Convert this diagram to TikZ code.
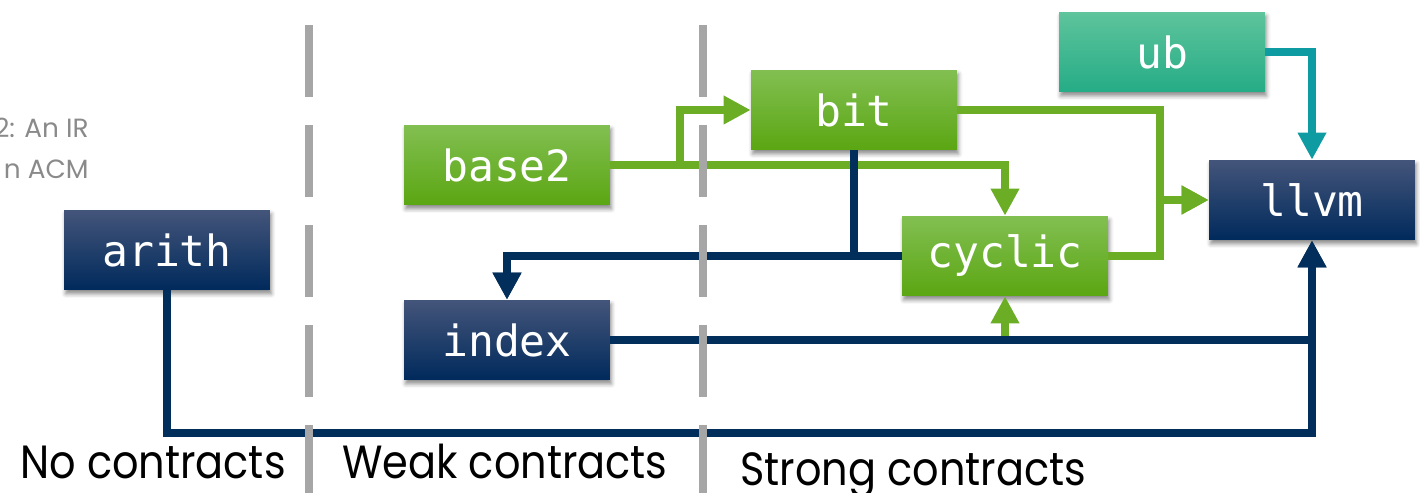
\documentclass[tikz,border=0pt]{standalone}
\usepackage{fontspec}
\setmainfont{Poppins}
\newfontfamily\codefont{DejaVu Sans Mono}
\newfontfamily\zonefont[FakeStretch=0.89]{Poppins}
\usetikzlibrary{arrows.meta,shadows.blur,calc}

\definecolor{grnTop}{HTML}{82BF52}
\definecolor{grnMid}{HTML}{6BB521}
\definecolor{grnBot}{HTML}{5BA612}
\definecolor{grnLine}{HTML}{6BAE25}
\definecolor{navTop}{HTML}{44557A}
\definecolor{navMid}{HTML}{062D5E}
\definecolor{navBot}{HTML}{002A5C}
\definecolor{navLine}{HTML}{022E5C}
\definecolor{tealTop}{HTML}{5EC49C}
\definecolor{tealMid}{HTML}{36B892}
\definecolor{tealBot}{HTML}{25AC86}
\definecolor{tealLine}{HTML}{0E9BA1}
\definecolor{divGray}{HTML}{A6A6A6}
\definecolor{noteGray}{HTML}{8A8A8A}

\tikzset{
  dialect/.style={rectangle, minimum width=4.12cm, minimum height=1.6cm,
    inner sep=0pt, text=white, font=\codefont\fontsize{24.5}{29}\selectfont,
    blur shadow={shadow xshift=0.03cm, shadow yshift=-0.08cm,
      shadow blur radius=0.08cm, shadow opacity=45}},
  greenbox/.style={dialect, top color=grnTop, middle color=grnMid, bottom color=grnBot},
  navybox/.style={dialect, top color=navTop, middle color=navMid, bottom color=navBot},
  tealbox/.style={dialect, top color=tealTop, middle color=tealMid, bottom color=tealBot},
  tip/.style={-{Triangle[length=0.54cm,width=0.54cm]}},
  wire/.style={line width=0.16cm, line join=miter},
  gwire/.style={wire, draw=grnLine, tip, color=grnLine},
  nwire/.style={wire, draw=navLine, tip, color=navLine},
  twire/.style={wire, draw=tealLine, tip, color=tealLine},
  divider/.style={line width=0.16cm, draw=divGray, dash pattern=on 1.44cm off 0.56cm},
  zone/.style={anchor=base west, inner sep=0pt, font=\zonefont\fontsize{26.5}{30}\selectfont},
  note/.style={anchor=base east, inner sep=0pt, text=noteGray, font=\fontsize{15}{18}\selectfont}
}

\begin{document}
\begin{tikzpicture}[x=0.02cm, y=-0.02cm]
  \useasboundingbox (0,0) rectangle (1420,493);

  % partly hidden caption text on the far left
  \node[note] (cap1) at (89,138) {2: An IR};
  \node[note] (cap2) at (89,179) {n ACM};

  % dialect boxes
  \node[navybox]  (arith)  at (167,250) {arith};
  \node[greenbox] (base2)  at (507,165) {base2};
  \node[navybox]  (index)  at (507,340) {index};
  \node[greenbox] (bit)    at (854,110) {bit};
  \node[greenbox] (cyclic) at (1005,256) {cyclic};
  \node[tealbox]  (ub)     at (1162,52) {ub};
  \node[navybox]  (llvm)   at (1312,200) {llvm};

  % junction points
  \coordinate (gjoin) at (1160,200);
  \coordinate (njoin) at (507,256);
  \coordinate (ijoin) at (1005,337);
  \coordinate (abot)  at (1312,433);

  % green lowerings
  \draw[gwire] (base2.east) -- ++(70,0) |- (bit.west);
  \draw[gwire] (base2.east) -| (cyclic.north);
  \draw[gwire] (bit.east) -| (gjoin) -- (llvm.west);
  \draw[gwire] (cyclic.east) -| (gjoin) -- (llvm.west);
  \draw[gwire] (ijoin) -- (cyclic.south);

  % navy lowerings
  \draw[nwire] (bit.south) |- (njoin) -- (index.north);
  \draw[nwire] (cyclic.west) -- (njoin) -- (index.north);
  \draw[nwire] (index.east) -| (llvm.south);
  \draw[nwire] (arith.south) |- (abot) -- (llvm.south);

  % teal lowering
  \draw[twire] (ub.east) -| (llvm.north);

  % zone dividers
  \draw[divider] (309,25) -- (309,493);
  \draw[divider] (703,25) -- (703,493);

  % zone labels
  \node[zone] (z1) at (20,478) {No contracts};
  \node[zone] (z2) at (342,478) {Weak contracts};
  \node[zone] (z3) at (740,485) {Strong contracts};
\end{tikzpicture}
\end{document}
